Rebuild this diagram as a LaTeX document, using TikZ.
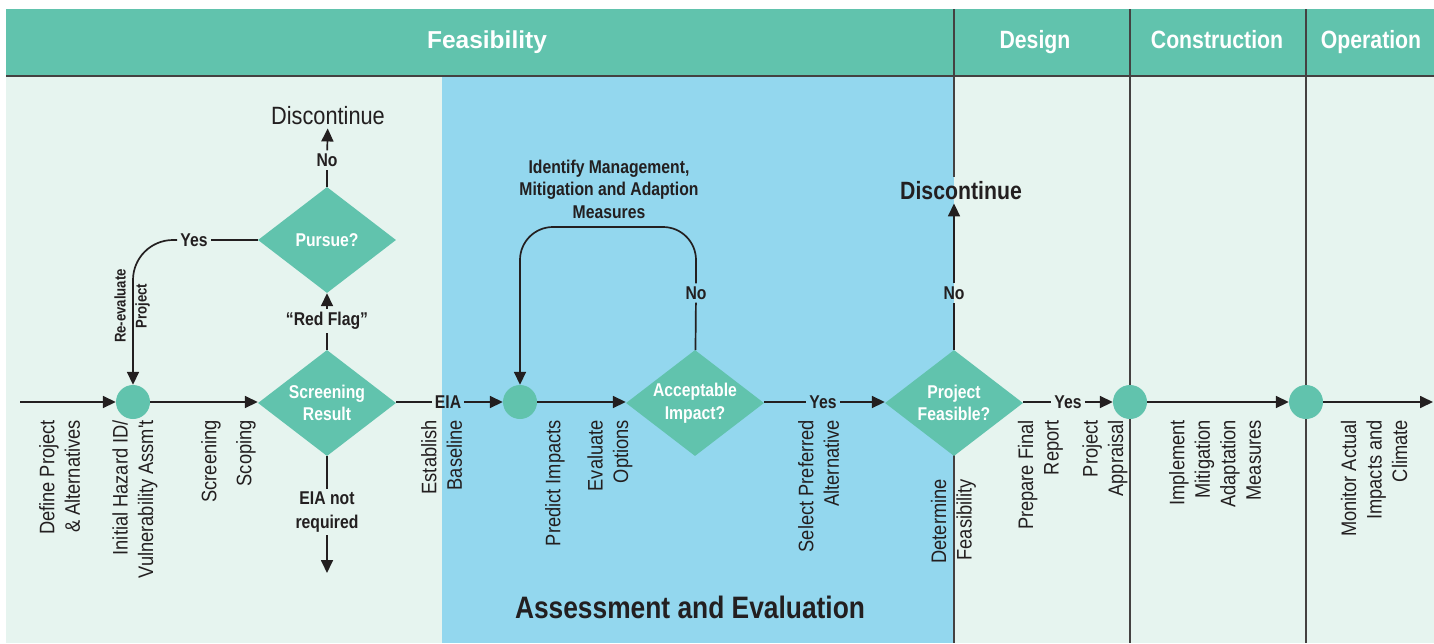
\documentclass[tikz,border=0pt]{standalone}
\usepackage{fontspec}
\setmainfont{Liberation Sans}
\newfontfamily\condb[FakeStretch=0.85]{Liberation Sans}
\newfontfamily\condr[FakeStretch=0.87]{Liberation Sans}
\usetikzlibrary{arrows.meta,shapes.geometric,calc}
\definecolor{hdrteal}{HTML}{61C3AD}
\definecolor{mint}{HTML}{E6F4EF}
\definecolor{skyblue}{HTML}{93D7EE}
\definecolor{ink}{HTML}{231F20}
\tikzset{
  flow/.style={draw=ink, line width=1.7pt},
  arr/.style={flow, -{Triangle[length=13pt,width=12pt]}},
  dia/.style={diamond, fill=hdrteal, inner sep=0pt, minimum width=138pt, minimum height=106pt, aspect=1.3, text=white, align=center, font=\condb\bfseries\fontsize{18.5}{22.5}\selectfont},
  dot/.style={circle, fill=hdrteal, minimum size=34pt, inner sep=0pt},
  lab/.style={font=\condb\bfseries\fontsize{18.5}{22}\selectfont, text=ink, inner sep=3pt, align=center},
  rot/.style={rotate=90, anchor=east, inner sep=0pt, align=right, text=ink, font=\condr\fontsize{21}{25.5}\selectfont},
  hdr/.style={anchor=base, text=white, inner sep=0pt, font=\condb\bfseries\fontsize{25}{30}\selectfont},
  divider/.style={draw=ink!85, line width=1.5pt},
}
\begin{document}
\begin{tikzpicture}[x=1pt,y=-1pt]
\useasboundingbox (0,0) rectangle (1434,643);
\fill[white] (0,0) rectangle (1434,643);
% backgrounds
\fill[mint] (6,76) rectangle (1434,643);
\fill[skyblue] (442,76) rectangle (954,643);
\fill[hdrteal] (6,9) rectangle (1434,76);
\draw[divider] (6,76) -- (1434,76);
\draw[divider] (954,9) -- (954,177);
\draw[divider] (954,420) -- (954,643);
\draw[divider] (1130,9) -- (1130,643);
\draw[divider] (1306,9) -- (1306,643);
% headers
\node[hdr, font=\bfseries\fontsize{24.5}{28}\selectfont] (hfeas) at (487,48.5) {Feasibility};
\node[hdr] (hdes) at (1035,48.5) {Design};
\node[hdr] (hcon) at (1217,48.5) {Construction};
\node[hdr] (hop) at (1371,48.5) {Operation};
\node[anchor=base, text=ink, font=\condb\bfseries\fontsize{31}{36}\selectfont] (assess) at (690,618) {Assessment and Evaluation};
% main nodes
\coordinate (start) at (20,402);
\coordinate (finish) at (1433,402);
\coordinate (noreqend) at (327,573);
\coordinate (loopmid) at (608,227);
\node[dot] (c1) at (133,402) {};
\node[dia] (d1) at (327,403) {Screening\\Result};
\node[dia] (dp) at (327,240) {Pursue?};
\node[dot] (c2) at (520,402) {};
\node[dia] (d2) at (695,403) {Acceptable\\Impact?};
\node[dia] (d3) at (954,403) {Project\\Feasible?};
\node[dot] (c3) at (1130,402) {};
\node[dot] (c4) at (1306,402) {};
% labels on connectors
\node[lab] (eia) at (448,402) {EIA};
\node[lab] (yes2) at (823,402) {Yes};
\node[lab] (yes3) at (1068,402) {Yes};
\node[lab] (yes1) at (194,240) {Yes};
\node[lab] (no1) at (327,160) {No};
\node[lab] (no2) at (696,293) {No};
\node[lab] (no3) at (954,293) {No};
\node[lab] (red) at (327,321) {“Red Flag”};
\node[lab, font=\condb\bfseries\fontsize{18.5}{24}\selectfont] (noreq) at (327,512) {EIA not\\required};
\node[lab, font=\condb\bfseries\fontsize{18.5}{22.5}\selectfont] (ident) at (609,189) {Identify Management,\\Mitigation and Adaption\\Measures};
\node[lab, rotate=90, inner sep=0pt, font=\condb\bfseries\fontsize{15.5}{21}\selectfont] (reev) at (132,306) {Re-evaluate\\Project};
\node[anchor=base, inner sep=4pt, text=ink, font=\condr\fontsize{25}{30}\selectfont] (disc1) at (328,124) {Discontinue};
\node[anchor=base, inner sep=4pt, text=ink, font=\condb\bfseries\fontsize{25}{30}\selectfont] (disc2) at (961,199) {Discontinue};
% rotated step labels
\node[rot] (l1) at (59.5,420) {Define Project\\\& Alternatives};
\node[rot] (l2) at (135,420) {Initial Hazard ID/\\Vulnerability Assm't};
\node[rot] (l3) at (211,420) {Screening};
\node[rot] (l4) at (246,420) {Scoping};
\node[rot] (l5) at (441.5,420) {Establish\\Baseline};
\node[rot] (l6) at (555,420) {Predict Impacts};
\node[rot] (l7) at (610,420) {Evaluate\\Options};
\node[rot] (l8) at (818.5,420) {Select Preferred\\Alternative};
\node[rot] (l9) at (953.5,479) {Determine\\Feasibility};
\node[rot] (l10) at (1040.5,420) {Prepare Final\\Report};
\node[rot] (l11) at (1105,420) {Project\\Appraisal};
\node[rot] (l12) at (1215,420) {Implement\\Mitigation\\Adaptation\\Measures};
\node[rot] (l13) at (1374,420) {Monitor Actual\\Impacts and\\Climate};
% connectors
\draw[arr] (start) -- (c1);
\draw[arr] (c1) -- (d1.west |- c1);
\draw[flow] (d1.east |- eia) -- (eia);
\draw[arr] (eia) -- (c2);
\draw[arr] (c2) -- (d2.west |- c2);
\draw[flow] (d2.east |- yes2) -- (yes2);
\draw[arr] (yes2) -- (d3.west |- yes2);
\draw[flow] (d3.east |- yes3) -- (yes3);
\draw[arr] (yes3) -- (c3);
\draw[arr] (c3) -- (c4);
\draw[arr] (c4) -- (finish);
\draw[flow] (d1) -- (red);
\draw[arr] (red) -- (dp);
\draw[flow] (dp) -- (no1);
\draw[arr] (no1) -- (disc1);
\draw[flow] (dp) -- (yes1);
\draw[arr, rounded corners=40pt] (yes1.west) -| (c1.north);
\draw[flow] (d1) -- (noreq);
\draw[arr] (noreq) -- (noreqend);
\draw[flow] (d2) -- (no2);
\draw[arr, rounded corners=33pt] (no2.north) -- (no2.north |- loopmid) -- (c2.north |- loopmid) -- (c2.north);
\draw[flow] (d3) -- (no3);
\draw[arr] (no3) -- (no3.north |- disc2.south);
\end{tikzpicture}
\end{document}
